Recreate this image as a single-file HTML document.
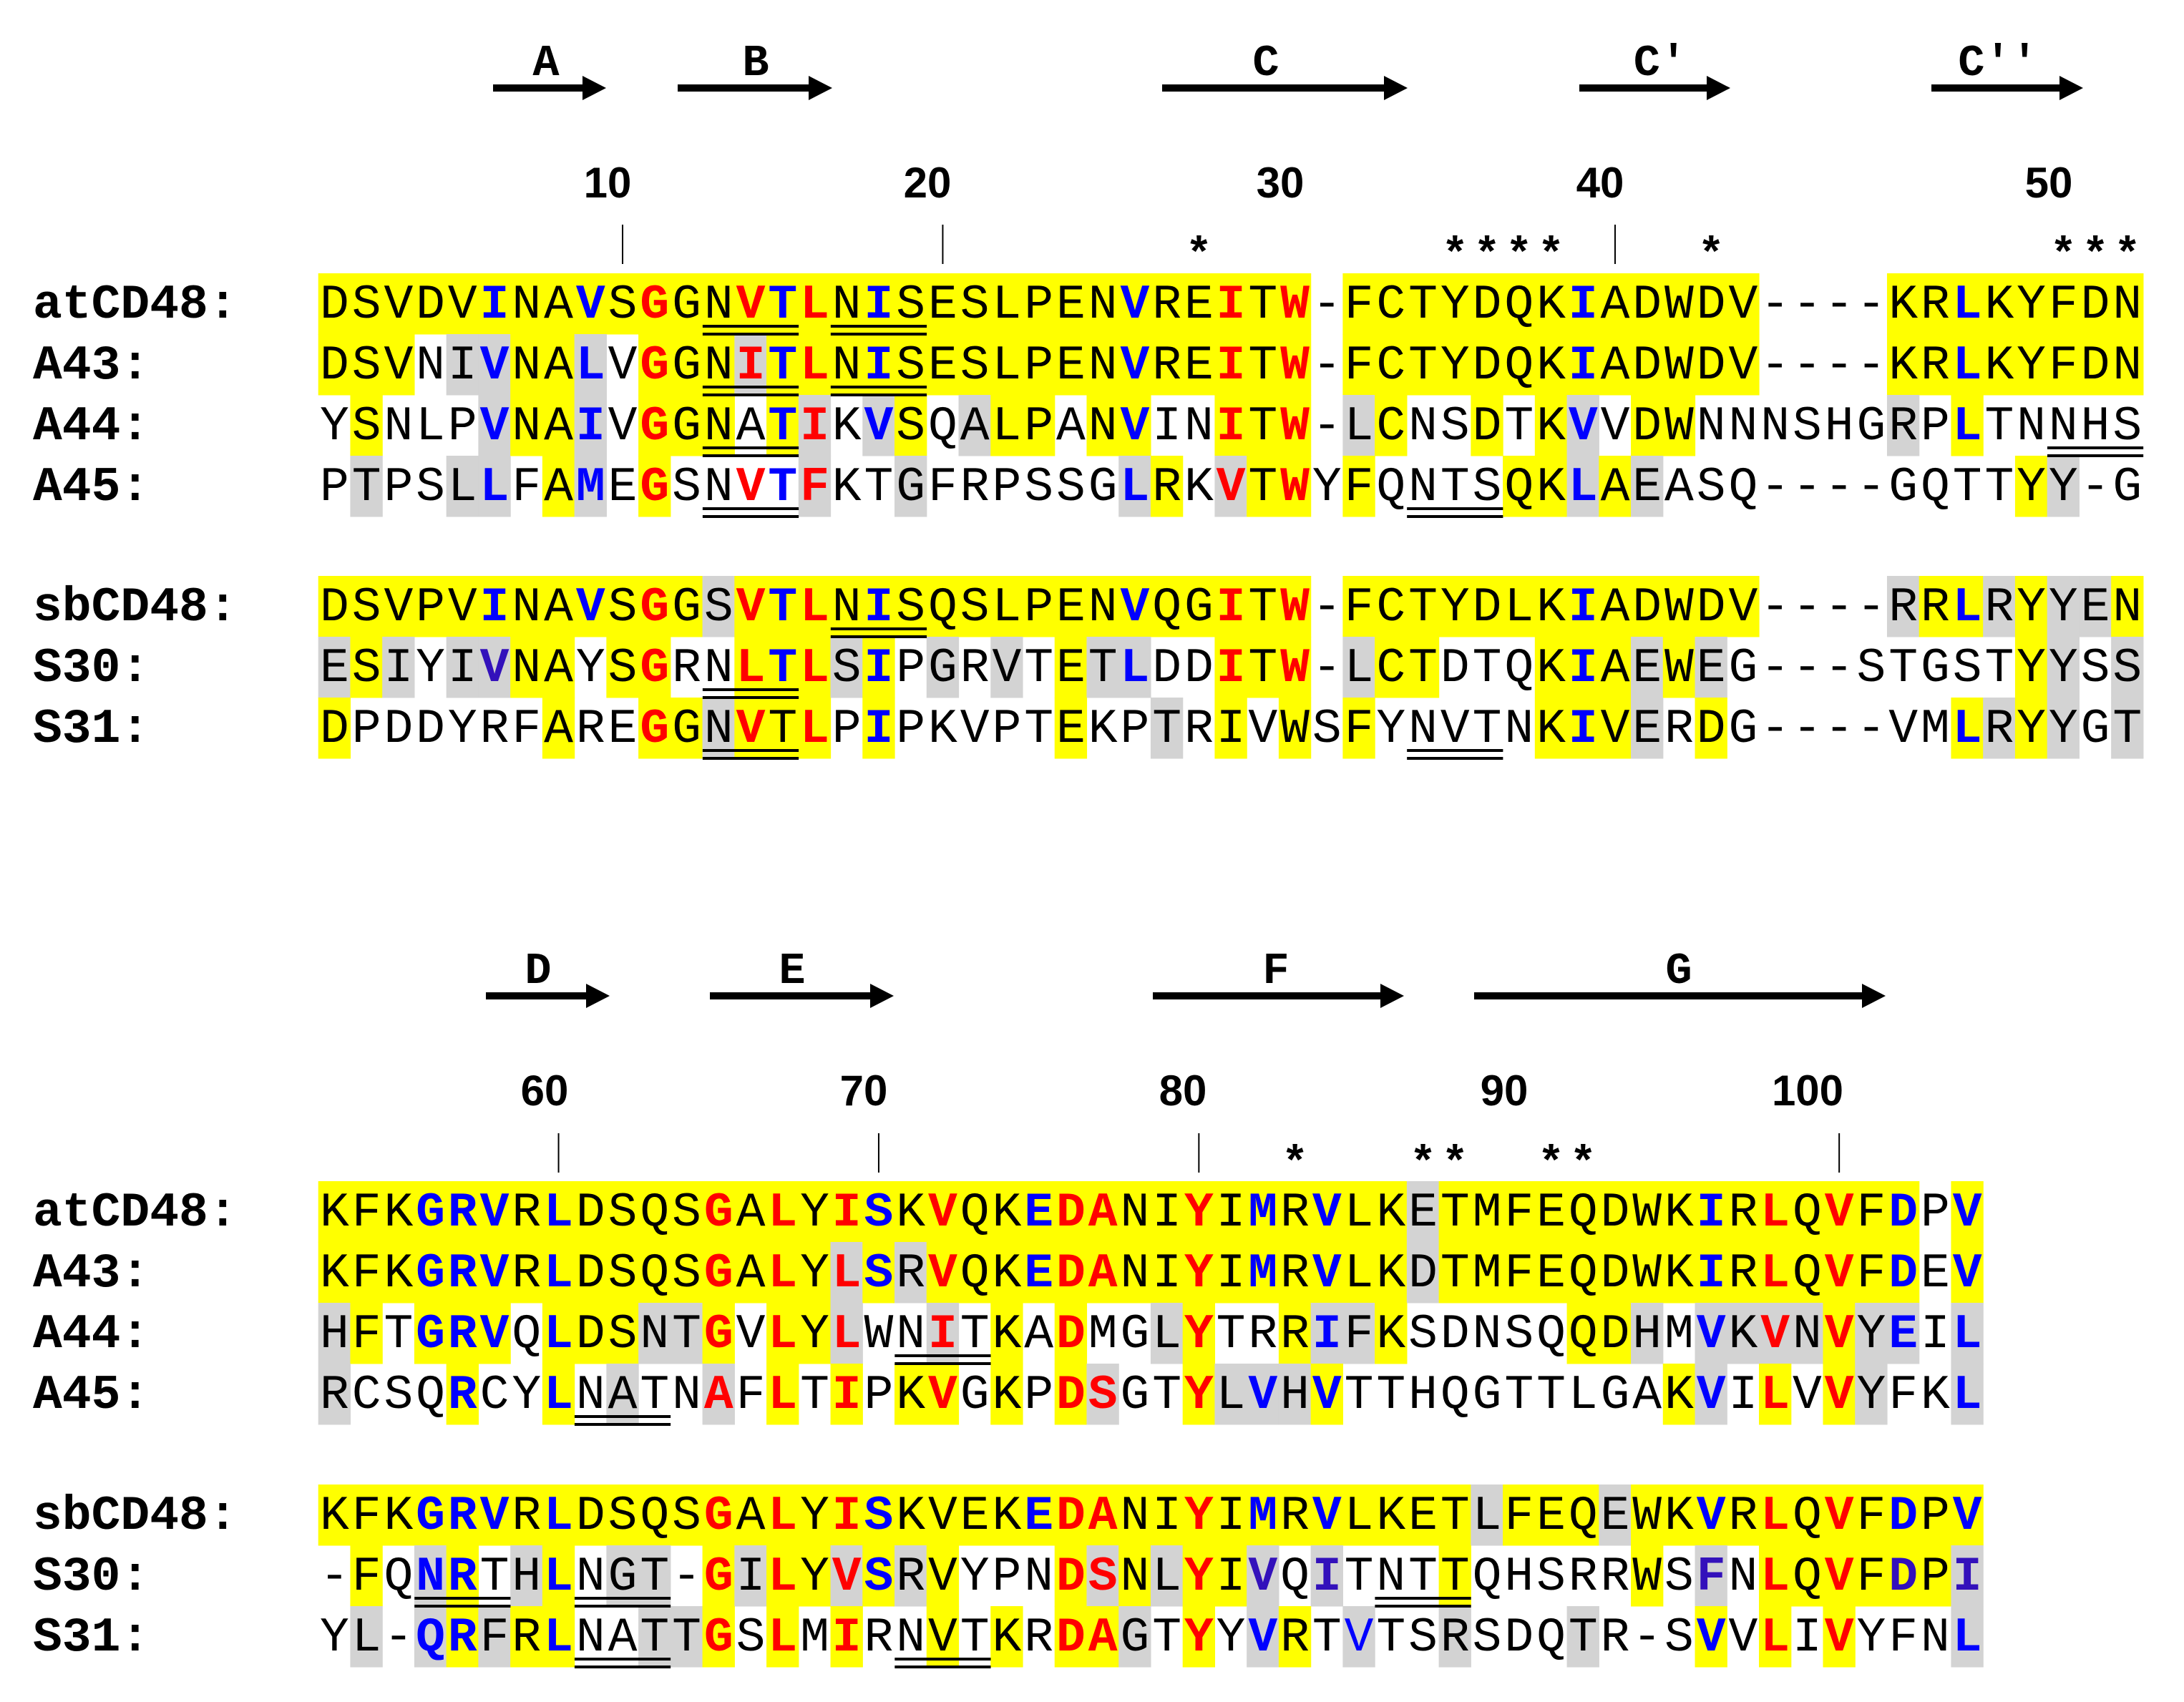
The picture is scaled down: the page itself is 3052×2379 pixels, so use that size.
<!DOCTYPE html>
<html>
<head>
<meta charset="utf-8">
<style>
  html,body{margin:0;padding:0;background:#fff;}
  svg{display:block;}
  .lab{font-family:"Liberation Mono",monospace;font-weight:bold;font-size:68px;fill:#000;}
  .seq{font-family:"Liberation Mono",monospace;font-size:68px;}
  .hdr{font-family:"Liberation Mono",monospace;font-weight:bold;font-size:62px;fill:#000;}
  .num{font-family:"Liberation Sans",sans-serif;font-weight:bold;font-size:60px;fill:#000;}
</style>
</head>
<body>
<svg id="fig" xmlns="http://www.w3.org/2000/svg" width="3052" height="2379" viewBox="0 0 3052 2379">
  <rect x="0" y="0" width="3052" height="2379" fill="#fff"/>
  <g id="bgLayer"></g>
  <g id="ulLayer"></g>
  <g id="txtLayer"></g>
  <g id="hdrLayer"></g>
</svg>
<script>
// ---- Data ----
const rowNames = ["atCD48:", "A43:", "A44:", "A45:", "sbCD48:", "S30:", "S31:"];

const block1Seqs = [
  "DSVDVINAVSGGNVTLNISESLPENVREITW-FCTYDQKIADWDV----KRLKYFDN",
  "DSVNIVNALVGGNITLNISESLPENVREITW-FCTYDQKIADWDV----KRLKYFDN",
  "YSNLPVNAIVGGNATIKVSQALPANVINITW-LCNSDTKVVDWNNNSHGRPLTNNHS",
  "PTPSLLFAMEGSNVTFKTGFRPSSGLRKVTWYFQNTSQKLAEASQ----GQTTYY-G",
  "DSVPVINAVSGGSVTLNISQSLPENVQGITW-FCTYDLKIADWDV----RRLRYYEN",
  "ESIYIVNAYSGRNLTLSIPGRVTETLDDITW-LCTDTQKIAEWEG---STGSTYYSS",
  "DPDDYRFAREGGNVTLPIPKVPTEKPTRIVWSFYNVTNKIVERDG----VMLRYYGT"
];
const block1Shade = [
  "YYYYYYYYYYYYYYYYYYYYYYYYYYYYYYY.YYYYYYYYYYYYY....YYYYYYYY",
  "YYY.GGYYG.YYYGYYYYYYYYYYYYYYYYY.YYYYYYYYYYYYY....YYYYYYYY",
  ".Y...GYYG.YYY.YG.GY.GYY.YY..YYY.GY..Y.YG.YY......G.Y.....",
  ".G..GG.YG.Y....G..G......GY.GYY.Y....YYGYG...........YG..",
  "YYYYYYYYYYYYGYYYYYYYYYYYYYYYYYY.YYYYYYYYYYYYY....GYYGYGGY",
  "GYG.GGYY.YY..YYYGY.G.G.YGG..YYY.GYY...YYYGYG.........YG.G",
  "Y......Y..YYGYYY.Y.....Y..G.Y.Y.Y.....YYYG.Y.......YGYG.G"
];
const block1Style = [
  ".....b..b.r..rbr.b.......b..r.r........b...........b.....",
  ".....b..b.r..rbr.b.......b..r.r........b...........b.....",
  ".....b..b.r...br.b.......b..r.r........b...........b.....",
  ".....b..b.r..rbr.........b..r.r........b.................",
  ".....b..b.r..rbr.b.......b..r.r........b...........b.....",
  ".....p....r..rbr.b.......b..r.r........b.................",
  "..........r..r.r.b.....................b...........b....."
];
const block1Underline = [
  [[12,3],[16,3]], [[12,3],[16,3]], [[12,3],[54,3]], [[12,3],[34,3]],
  [[16,3]], [[12,3]], [[12,3],[34,3]]
];

const block2Seqs = [
  "KFKGRVRLDSQSGALYISKVQKEDANIYIMRVLKETMFEQDWKIRLQVFDPV",
  "KFKGRVRLDSQSGALYLSRVQKEDANIYIMRVLKDTMFEQDWKIRLQVFDEV",
  "HFTGRVQLDSNTGVLYLWNITKADMGLYTRRIFKSDNSQQDHMVKVNVYEIL",
  "RCSQRCYLNATNAFLTIPKVGKPDSGTYLVHVTTHQGTTLGAKVILVVYFKL",
  "KFKGRVRLDSQSGALYISKVEKEDANIYIMRVLKETLFEQEWKVRLQVFDPV",
  "-FQNRTHLNGT-GILYVSRVYPNDSNLYIVQITNTTQHSRRWSFNLQVFDPI",
  "YL-QRFRLNATTGSLMIRNVTKRDAGTYYVRTVTSRSDQTR-SVVLIVYFNL"
];
const block2Shade = [
  "YYYYYYYYYYYYYYYYYYYYYYYYYYYYYYYYYYGYYYYYYYYYYYYYYY.Y",
  "YYYYYYYYYYYYYYYYGYGYYYYYYYYYYYYYYYGYYYYYYYYYYYYYYY.Y",
  "GY.YYY.YYYGGY.YYG..G.Y.Y..GY..YGGY.....YYG.GGGGYGG.G",
  "G...Y..Y.G..G.Y.Y.YY.Y.YG..YGGGY..........YG.Y.YG..G",
  "YYYYYYYYYYYYYYYYYYYYYYYYYYYYYYYYYYYYGYYYGYYYYYYYYYYY",
  ".Y.GY.GY.GG.YGYYGYGY...YGYGYYG.G...Y.....Y.G.YYYYYYG",
  ".G.GYGYY..GGY.Y.Y..Y.Y.YYG.Y.GY.G..G...G...Y.Y.Y...G"
];
const block2Style = [
  "...bbb.b....r.r.rb.r..brr..r.b.b...........b.r.r.b.b",
  "...bbb.b....r.r.rb.r..brr..r.b.b...........b.r.r.b.b",
  "...bbb.b....r.r.r..r...r...r...b...........b.r.r.b.b",
  "....b..b....r.r.r..r...rr..r.b.b...........b.r.r...b",
  "...bbb.b....r.r.rb....brr..r.b.b...........b.r.r.b.b",
  "...bb..b....r.r.rb.....rr..r.p.p...........p.r.r.p.p",
  "...bb..b....r.r.r......rr..r.b..t..........b.r.r...b"
];
const block2Underline = [
  [], [], [[18,3]], [[8,3]], [], [[3,3],[8,3],[33,3]], [[8,3],[18,3]]
];

const block1Ticks = [9, 19, 40];
const block2Ticks = [7, 17, 27, 47];
const block1Numbers = ["10", "20", "30", "40", "50"];
const block1NumberX = [849, 1296, 1789, 2236, 2863];
const block2Numbers = ["60", "70", "80", "90", "100"];
const block2NumberX = [761, 1207, 1653, 2102, 2526];
const block1Stars = [27, 35, 36, 37, 38, 43, 54, 55, 56];
const block2Stars = [30, 34, 35, 38, 39];
const block1Strands = ["A", "B", "C", "C\u2032", "C\u2032\u2032"];
const block1StrandStart = [689, 947, 1624, 2207, 2699];
const block1StrandEnd = [847, 1163, 1967, 2418, 2911];
const block1StrandLabelX = [763, 1056, 1769, 2320, 2792];
const block2Strands = ["D", "E", "F", "G"];
const block2StrandStart = [679, 992, 1611, 2060];
const block2StrandEnd = [852, 1249, 1962, 2635];
const block2StrandLabelX = [752, 1107, 1783, 2346];

// ---- Layout ----
const NS = "http://www.w3.org/2000/svg";
const X0 = 445, CW = 44.74, RH = 85;
const rowTops1 = [382, 467, 552, 637, 805, 890, 975];
const rowTops2 = [1651, 1736, 1821, 1906, 2075, 2160, 2245];
const shadeColor = {Y: "#ffff00", G: "#d3d3d3"};
const textColor = {r: "#ff0000", b: "#0000ff", p: "#3311bb", t: "#0000ff"};
function cellX(i){ return X0 + CW * i; }
function cellC(i){ return X0 + CW * (i + 0.5); }
function mk(tag, attrs, parent){
  const e = document.createElementNS(NS, tag);
  for (const k in attrs) e.setAttribute(k, attrs[k]);
  parent.appendChild(e);
  return e;
}
const bgL = document.getElementById("bgLayer");
const ulL = document.getElementById("ulLayer");
const txL = document.getElementById("txtLayer");
const hdL = document.getElementById("hdrLayer");

function drawBlock(seqs, shades, styles, uls, tops){
  seqs.forEach((seq, r) => {
    const top = tops[r];
    const lab = mk("text", {x: 46, y: top + 62, class: "lab"}, txL);
    
    
    lab.textContent = rowNames[r];
    for (let i = 0; i < seq.length; i++){
      const s = shades[r][i];
      if (shadeColor[s]){
        const rc = mk("rect", {x: cellX(i) - 0.3, y: top, width: CW + 0.6, height: RH + 0.5, fill: shadeColor[s]}, bgL);
        
        
      }
      const st = styles[r][i];
      const t = mk("text", {x: cellC(i), y: top + 62, "text-anchor": "middle", class: "seq",
        fill: textColor[st] || "#000", "font-weight": (st === "." || st === "t") ? "normal" : "bold"}, txL);
      
      
      t.textContent = seq[i];
    }
    uls[r].forEach(u => {
      [72, 83].forEach(dy => {
        const l = mk("rect", {x: cellX(u[0]), y: top + dy, width: CW * u[1], height: 4, fill: "#000"}, ulL);
        
        
      });
    });
  });
}
drawBlock(block1Seqs, block1Shade, block1Style, block1Underline, rowTops1);
drawBlock(block2Seqs, block2Shade, block2Style, block2Underline, rowTops2);

function drawHeader(names, xs, xe, lx, arrowY, numbers, numX, numBase, ticks, tickTop, stars, starY){
  names.forEach((n, k) => {
    const g = mk("g", {}, hdL);
    
    
    mk("rect", {x: xs[k], y: arrowY - 5, width: xe[k] - xs[k] - 30, height: 10, fill: "#000"}, g);
    mk("polygon", {points: `${xe[k]-33},${arrowY-17} ${xe[k]},${arrowY} ${xe[k]-33},${arrowY+17}`, fill: "#000"}, g);
    const t = mk("text", {x: lx[k], y: arrowY - 18, "text-anchor": "middle", class: "hdr"}, g);
    
    
    t.textContent = n;
  });
  numbers.forEach((n, k) => {
    const t = mk("text", {x: numX[k], y: numBase, "text-anchor": "middle", class: "num"}, hdL);
    
    
    t.textContent = n;
  });
  ticks.forEach(i => {
    const l = mk("line", {x1: cellC(i), x2: cellC(i), y1: tickTop, y2: tickTop + 55, stroke: "#000", "stroke-width": 2}, hdL);
    
    
  });
  stars.forEach(i => {
    const t = mk("text", {x: cellC(i), y: starY + 44, "text-anchor": "middle", class: "hdr", "font-size": "108"}, hdL);
    
    
    t.textContent = "*";
  });
}
drawHeader(block1Strands, block1StrandStart, block1StrandEnd, block1StrandLabelX, 123,
  block1Numbers, block1NumberX, 276, block1Ticks, 314, block1Stars, 330);
drawHeader(block2Strands, block2StrandStart, block2StrandEnd, block2StrandLabelX, 1392,
  block2Numbers, block2NumberX, 1545, block2Ticks, 1584, block2Stars, 1600);
</script>
</body>
</html>
